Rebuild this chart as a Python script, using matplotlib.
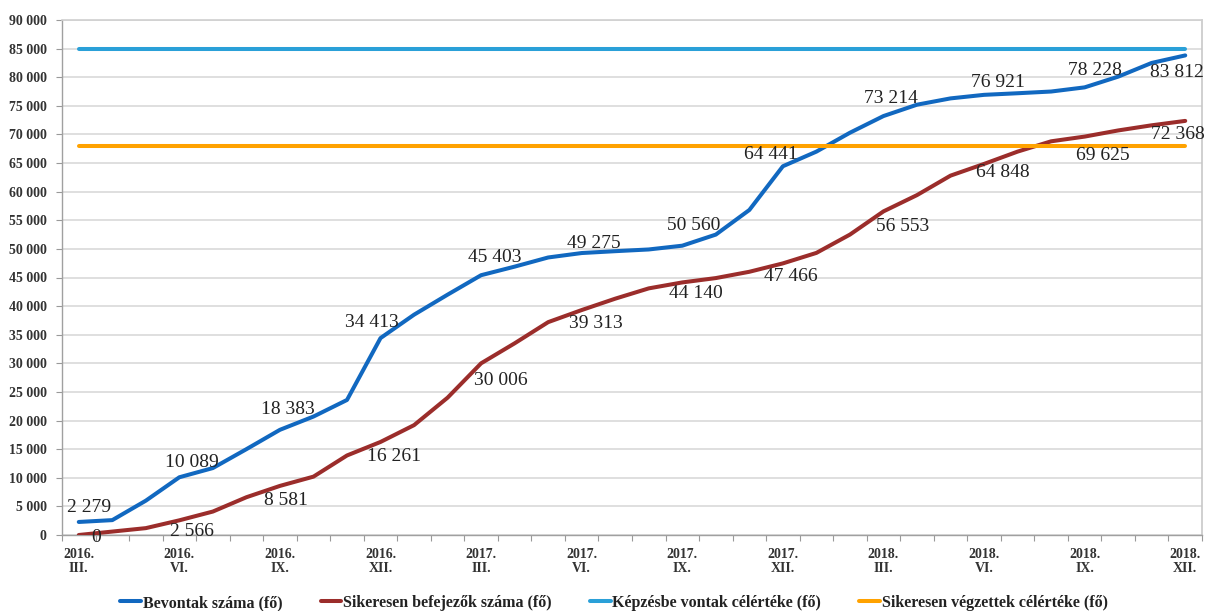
import matplotlib
matplotlib.use("Agg")
import matplotlib.pyplot as plt
from matplotlib.ticker import FixedLocator, FuncFormatter

# Monthly series, 2016 March .. 2018 December
months = [
    "2016.\nIII.", "", "", "2016.\nVI.", "", "", "2016.\nIX.", "", "", "2016.\nXII.", "", "",
    "2017.\nIII.", "", "", "2017.\nVI.", "", "", "2017.\nIX.", "", "", "2017.\nXII.", "", "",
    "2018.\nIII.", "", "", "2018.\nVI.", "", "", "2018.\nIX.", "", "", "2018.\nXII.",
]
bevontak = [
    2279, 2600, 6000, 10089, 11700, 15000, 18383, 20700, 23600, 34413, 38500, 42000,
    45403, 46900, 48500, 49275, 49600, 49900, 50560, 52500, 56800, 64441, 67000, 70300,
    73214, 75200, 76300, 76921, 77200, 77500, 78228, 80100, 82500, 83812,
]
befejezok = [
    0, 600, 1200, 2566, 4100, 6600, 8581, 10200, 13900, 16261, 19200, 24000,
    30006, 33500, 37200, 39313, 41300, 43100, 44140, 44900, 46000, 47466, 49300, 52500,
    56553, 59400, 62800, 64848, 67000, 68800, 69625, 70700, 71600, 72368,
]
cel_bevont = 85000
cel_vegzett = 68000

series_names = [
    "Bevontak száma (fő)",
    "Sikeresen befejezők száma (fő)",
    "Képzésbe vontak célértéke (fő)",
    "Sikeresen végzettek célértéke (fő)",
]
colors = ["#1168c0", "#9b2d2b", "#2aa0d8", "#ffa200"]

# Pixel nudges for the value labels (dx, dy), one per labelled month
blue_offsets = [(10, 14), (13, 15), (8, 20), (-9, 16), (14, 18), (12, 10),
                (11, 20), (-12, 12), (7, 18), (14, 12), (10, 17), (-8, -17)]
red_offsets = [(17, -2), (13, -11), (6, -15), (13, -15), (20, -17), (14, -13),
               (14, -11), (8, -13), (19, -15), (19, -9), (18, -19), (-7, -14)]

serif = "Liberation Serif"
plt.rcParams["font.family"] = serif

fig = plt.figure(figsize=(12.06, 6.11), dpi=100)
ax = fig.add_axes([62 / 1206, 1 - 535 / 611, (1202 - 62) / 1206, (535 - 20) / 611])

x = list(range(len(months)))
lw = 2.9
ax.plot(x, bevontak, color=colors[0], lw=lw, label=series_names[0], solid_capstyle="round", zorder=3)
ax.plot(x, befejezok, color=colors[1], lw=lw, label=series_names[1], solid_capstyle="round", zorder=3)
ax.plot(x, [cel_bevont] * len(x), color=colors[2], lw=lw, label=series_names[2], solid_capstyle="round", zorder=3)
ax.plot(x, [cel_vegzett] * len(x), color=colors[3], lw=lw, label=series_names[3], solid_capstyle="round", zorder=3)

fmt = lambda v: f"{int(v):,}".replace(",", " ")

label_idx = [i for i, m in enumerate(months) if m]
for k, i in enumerate(label_idx):
    dx, dy = blue_offsets[k]
    ax.annotate(fmt(bevontak[i]), (i, bevontak[i]), xytext=(dx * 0.72, dy * 0.72),
                textcoords="offset points", ha="center", va="center",
                fontsize=14, color="#222222", zorder=4)
    dx, dy = red_offsets[k]
    ax.annotate(fmt(befejezok[i]), (i, befejezok[i]), xytext=(dx * 0.72, dy * 0.72),
                textcoords="offset points", ha="center", va="center",
                fontsize=14, color="#222222", zorder=4)

ax.set_xlim(-0.5, len(months) - 0.5)
ax.set_ylim(0, 90000)
ax.yaxis.set_major_locator(FixedLocator(range(0, 90001, 5000)))
ax.yaxis.set_major_formatter(FuncFormatter(lambda v, p: fmt(v)))

ax.set_xticks(label_idx)
ax.set_xticklabels([months[i] for i in label_idx])
ax.set_xticks([i - 0.5 for i in range(len(months) + 1)], minor=True)
ax.tick_params(axis="x", which="major", length=0, pad=9)
ax.tick_params(axis="x", which="minor", length=4, width=0.8, color="#999999", direction="out")
ax.tick_params(axis="y", length=4, width=0.8, color="#999999", pad=7)

for lab in ax.get_xticklabels() + ax.get_yticklabels():
    lab.set_fontweight("bold")
    lab.set_fontsize(10)
    lab.set_color("#333333")
for lab in ax.get_xticklabels():
    lab.set_linespacing(1.15)

ax.grid(axis="y", color="#d9d9d9", lw=1.2, zorder=0)
ax.set_axisbelow(True)
for side in ["left", "bottom"]:
    ax.spines[side].set_color("#a0a0a0")
    ax.spines[side].set_linewidth(1.0)
ax.spines["right"].set_color("#c8c8c8")
ax.spines["right"].set_linewidth(1.2)
ax.spines["top"].set_color("#d0d0d0")
ax.spines["top"].set_linewidth(1.2)

leg = fig.legend(loc="center", bbox_to_anchor=(614 / 1206, 1 - 603 / 611), ncol=4,
                 frameon=False, handlelength=1.3, handletextpad=0.1, columnspacing=2.4,
                 prop={"family": serif, "weight": "bold", "size": 11.5})
for t in leg.get_texts():
    t.set_color("#222222")

fig.savefig("out.png", dpi=100)
